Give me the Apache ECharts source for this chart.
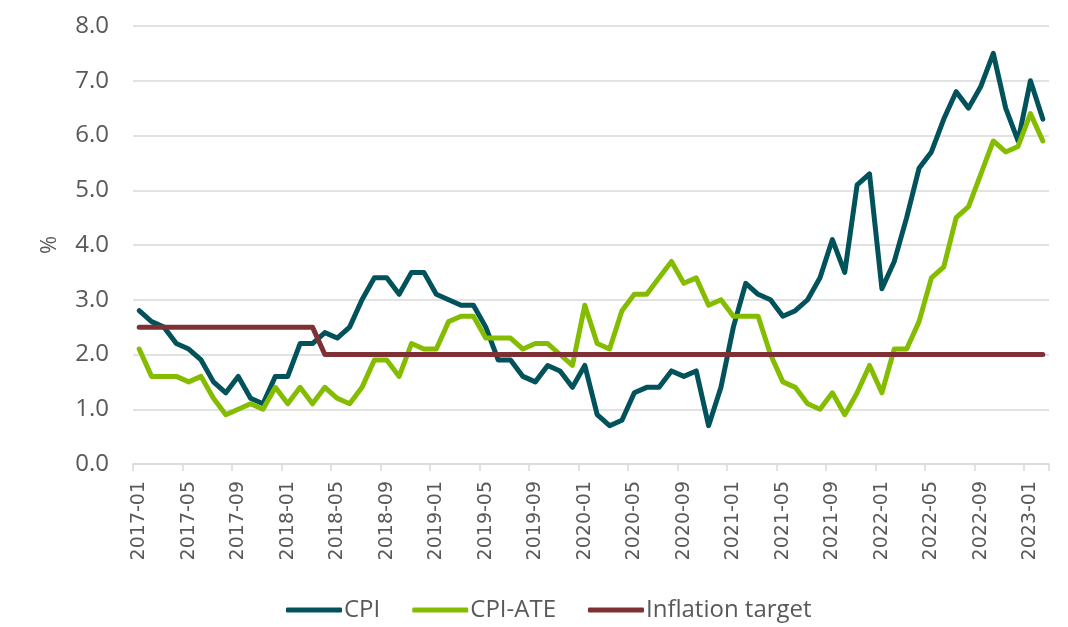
<!DOCTYPE html>
<html>
<head>
<meta charset="utf-8">
<script src="https://cdn.jsdelivr.net/npm/echarts@6/dist/echarts.min.js"></script>
<style>
  html, body { margin: 0; padding: 0; background: #fff; }
  #main { width: 1068px; height: 627px; }
</style>
</head>
<body>
<div id="main"></div>
<script>
// monthly, 2017-01 .. 2023-02
var months = [];
for (var y = 2017; y <= 2023; y++) {
    for (var m = 1; m <= 12; m++) {
        if (y === 2023 && m > 2) break;
        months.push(y + '-' + (m < 10 ? '0' + m : m));
    }
}

var cpi = [
    2.8, 2.6, 2.5, 2.2, 2.1, 1.9, 1.5, 1.3, 1.6, 1.2, 1.1, 1.6,
    1.6, 2.2, 2.2, 2.4, 2.3, 2.5, 3.0, 3.4, 3.4, 3.1, 3.5, 3.5,
    3.1, 3.0, 2.9, 2.9, 2.5, 1.9, 1.9, 1.6, 1.5, 1.8, 1.7, 1.4,
    1.8, 0.9, 0.7, 0.8, 1.3, 1.4, 1.4, 1.7, 1.6, 1.7, 0.7, 1.4,
    2.5, 3.3, 3.1, 3.0, 2.7, 2.8, 3.0, 3.4, 4.1, 3.5, 5.1, 5.3,
    3.2, 3.7, 4.5, 5.4, 5.7, 6.3, 6.8, 6.5, 6.9, 7.5, 6.5, 5.9,
    7.0, 6.3
];

var cpiAte = [
    2.1, 1.6, 1.6, 1.6, 1.5, 1.6, 1.2, 0.9, 1.0, 1.1, 1.0, 1.4,
    1.1, 1.4, 1.1, 1.4, 1.2, 1.1, 1.4, 1.9, 1.9, 1.6, 2.2, 2.1,
    2.1, 2.6, 2.7, 2.7, 2.3, 2.3, 2.3, 2.1, 2.2, 2.2, 2.0, 1.8,
    2.9, 2.2, 2.1, 2.8, 3.1, 3.1, 3.4, 3.7, 3.3, 3.4, 2.9, 3.0,
    2.7, 2.7, 2.7, 2.0, 1.5, 1.4, 1.1, 1.0, 1.3, 0.9, 1.3, 1.8,
    1.3, 2.1, 2.1, 2.6, 3.4, 3.6, 4.5, 4.7, 5.3, 5.9, 5.7, 5.8,
    6.4, 5.9
];

// 2.5 until 2018-03, 2.0 after
var target = [
    2.5, 2.5, 2.5, 2.5, 2.5, 2.5, 2.5, 2.5, 2.5, 2.5, 2.5, 2.5,
    2.5, 2.5, 2.5, 2.0, 2.0, 2.0, 2.0, 2.0, 2.0, 2.0, 2.0, 2.0,
    2.0, 2.0, 2.0, 2.0, 2.0, 2.0, 2.0, 2.0, 2.0, 2.0, 2.0, 2.0,
    2.0, 2.0, 2.0, 2.0, 2.0, 2.0, 2.0, 2.0, 2.0, 2.0, 2.0, 2.0,
    2.0, 2.0, 2.0, 2.0, 2.0, 2.0, 2.0, 2.0, 2.0, 2.0, 2.0, 2.0,
    2.0, 2.0, 2.0, 2.0, 2.0, 2.0, 2.0, 2.0, 2.0, 2.0, 2.0, 2.0,
    2.0, 2.0
];

var textGrey = '#595959';
var gridGrey = '#d9d9d9';

var chart = echarts.init(document.getElementById('main'));

function lineSeries(name, data, color) {
    return {
        name: name,
        type: 'line',
        data: data,
        symbol: 'none',
        lineStyle: { width: 5, color: color, cap: 'round', join: 'round' },
        itemStyle: { color: color }
    };
}

option = {
    animation: false,
    grid: { left: 133, right: 19, top: 26, bottom: 163 },
    legend: {
        bottom: 0,
        left: 281,
        icon: 'roundRect',
        itemWidth: 56,
        itemHeight: 5,
        itemGap: 32,
        textStyle: { fontFamily: 'Open Sans', fontSize: 24, color: textGrey, padding: [0, 0, 0, -3] },
        data: ['CPI', 'CPI-ATE', 'Inflation target']
    },
    xAxis: {
        type: 'category',
        data: months,
        boundaryGap: true,
        axisLine: { lineStyle: { color: gridGrey, width: 1.5 } },
        axisTick: { show: true, interval: 3, length: 7, lineStyle: { color: gridGrey, width: 1.5 } },
        axisLabel: {
            interval: 3,
            rotate: 90,
            margin: 17,
            fontFamily: 'DejaVu Sans',
            fontSize: 19,
            color: textGrey
        }
    },
    yAxis: {
        type: 'value',
        name: '%',
        nameLocation: 'middle',
        nameGap: 72,
        nameRotate: 90,
        nameTextStyle: { fontFamily: 'Open Sans', fontSize: 22, color: textGrey },
        min: 0,
        max: 8,
        interval: 1,
        axisLine: { show: false },
        axisTick: { show: false },
        axisLabel: {
            margin: 24,
            fontFamily: 'Open Sans',
            fontSize: 24,
            color: textGrey,
            formatter: function (v) { return v.toFixed(1); }
        },
        splitLine: { lineStyle: { color: gridGrey, width: 1.5 } }
    },
    series: [
        lineSeries('CPI', cpi, '#02525b'),
        lineSeries('CPI-ATE', cpiAte, '#84bd00'),
        lineSeries('Inflation target', target, '#7f3035')
    ]
};

chart.setOption(option);
</script>
</body>
</html>
